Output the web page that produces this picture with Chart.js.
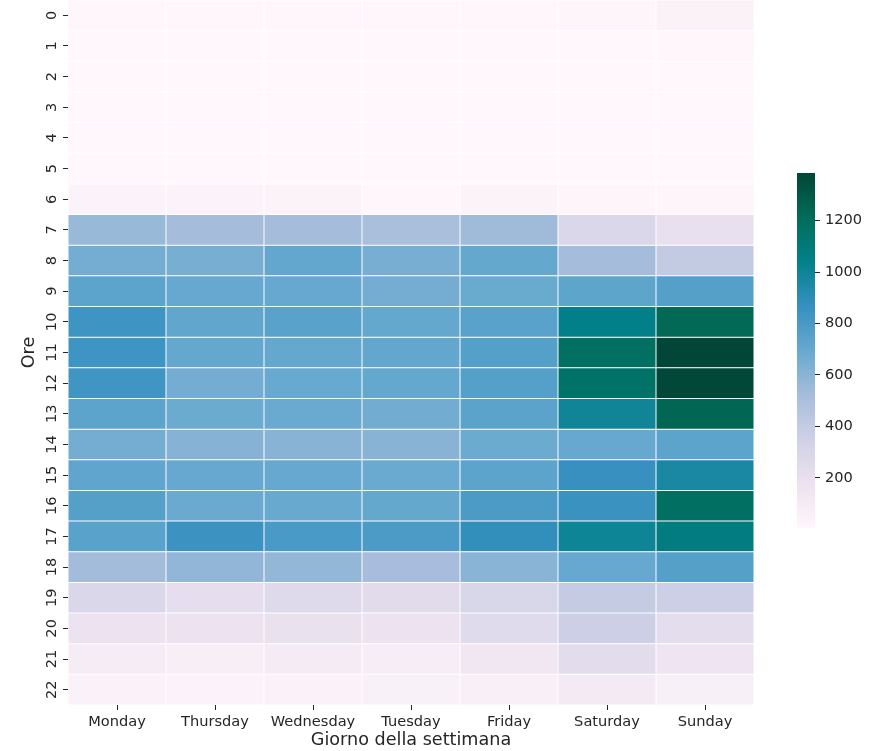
<!DOCTYPE html>
<html>
<head>
<meta charset="utf-8">
<script src="https://cdn.jsdelivr.net/npm/chart.js@4.4.1/dist/chart.umd.min.js"></script>
<style>
  body { margin: 0; background: #fff; }
  #wrap { position: relative; width: 877px; height: 751px; }
  .box { position: absolute; }
</style>
</head>
<body>
<div id="wrap">
  <div class="box" style="left:0;top:0;width:877px;height:751px"><canvas id="heat"></canvas></div>
  <div class="box" style="left:790px;top:160px;width:87px;height:380px"><canvas id="cbar"></canvas></div>
</div>
<script>
const days = ['Monday', 'Thursday', 'Wednesday', 'Tuesday', 'Friday', 'Saturday', 'Sunday'];
const hours = [0, 1, 2, 3, 4, 5, 6, 7, 8, 9, 10, 11, 12, 13, 14, 15, 16, 17, 18, 19, 20, 21, 22];
const colorbarTicks = [200, 400, 600, 800, 1000, 1200];

// counts per hour (0..22) for each day
const monday    = [15, 8, 5, 5, 5, 6, 40, 560, 660, 730, 840, 840, 830, 730, 660, 720, 760, 745, 530, 285, 180, 95, 50];
const thursday  = [12, 6, 5, 5, 5, 6, 38, 525, 650, 700, 715, 705, 660, 680, 610, 700, 685, 845, 580, 215, 180, 80, 40];
const wednesday = [12, 6, 5, 5, 5, 6, 35, 525, 710, 700, 745, 705, 695, 685, 605, 700, 695, 800, 575, 260, 190, 100, 50];
const tuesday   = [12, 6, 5, 5, 5, 6, 15, 505, 650, 660, 705, 710, 705, 665, 605, 685, 705, 795, 520, 245, 175, 90, 55];
const friday    = [15, 8, 5, 5, 5, 6, 35, 540, 705, 690, 745, 760, 760, 735, 680, 730, 790, 880, 600, 300, 250, 140, 70];
const saturday  = [20, 8, 6, 5, 5, 6, 25, 294, 525, 725, 1045, 1180, 1160, 995, 700, 865, 855, 1000, 700, 400, 365, 240, 115];
const sunday    = [45, 15, 8, 6, 5, 6, 25, 200, 405, 760, 1225, 1385, 1375, 1240, 730, 960, 1180, 1080, 760, 365, 230, 150, 65];

const byDay = [monday, thursday, wednesday, tuesday, friday, saturday, sunday];

// matplotlib PuBuGn
const PUBUGN = ['#fff7fb', '#ece2f0', '#d0d1e6', '#a6bddb', '#67a9cf', '#3690c0', '#02818a', '#016c59', '#014636'];
const TEXT = '#262626';
const FONT = 'DejaVu Sans';

const allValues = byDay.flat();
const vmin = Math.min(...allValues);
const vmax = Math.max(...allValues);

function hexToRgb(h) {
    return [1, 3, 5].map(i => parseInt(h.substr(i, 2), 16));
}
const stopsRgb = PUBUGN.map(hexToRgb);

function colorFor(v) {
    let t = (v - vmin) / (vmax - vmin);
    t = Math.max(0, Math.min(1, t)) * (stopsRgb.length - 1);
    const i = Math.min(Math.floor(t), stopsRgb.length - 2);
    const f = t - i;
    const a = stopsRgb[i], b = stopsRgb[i + 1];
    const c = a.map((x, k) => Math.round(x + (b[k] - x) * f));
    return 'rgb(' + c.join(',') + ')';
}

// no extra room for label overhang, the cells go to the edges
function noPad(s) {
    s.paddingTop = 0;
    s.paddingBottom = 0;
    s.paddingLeft = 0;
    s.paddingRight = 0;
}

const datasets = hours.map(h => ({
    data: days.map(() => [h, h + 1]),
    backgroundColor: days.map((d, j) => colorFor(byDay[j][h])),
    borderColor: '#ffffff',
    borderWidth: 0.5,
    borderSkipped: false,
    grouped: false,
    barPercentage: 1,
    categoryPercentage: 1,
    inflateAmount: 0,
}));

new Chart(document.getElementById('heat'), {
    type: 'bar',
    data: { labels: days, datasets },
    options: {
        responsive: true,
        maintainAspectRatio: false,
        animation: false,
        layout: { padding: { left: 0, top: 0, right: 123, bottom: 0 } },
        plugins: { legend: { display: false }, tooltip: { enabled: false } },
        scales: {
            x: {
                grid: { offset: false, drawOnChartArea: false, tickLength: 5, color: TEXT },
                border: { display: false },
                ticks: { color: TEXT, padding: 3, font: { family: FONT, size: 14.6 } },
                title: { display: true, text: 'Giorno della settimana', color: TEXT,
                         padding: { top: 0, bottom: 0 }, font: { family: FONT, size: 17.6 } },
                afterFit: s => { s.height = 46; noPad(s); },
            },
            y: {
                type: 'linear',
                reverse: true,
                min: 0,
                max: hours.length,
                afterBuildTicks: s => { s.ticks = hours.map(h => ({ value: h + 0.5 })); },
                grid: { drawOnChartArea: false, tickLength: 5, color: TEXT },
                border: { display: false },
                ticks: {
                    color: TEXT, padding: 2, minRotation: 90, maxRotation: 90, crossAlign: 'center',
                    font: { family: FONT, size: 14.6 },
                    callback: (v, i) => String(hours[i]),
                },
                title: { display: true, text: 'Ore', color: TEXT,
                         padding: { top: 19, bottom: 0 }, font: { family: FONT, size: 17.6 } },
                afterFit: s => { s.width = 68; noPad(s); },
            },
        },
    },
});

new Chart(document.getElementById('cbar'), {
    type: 'bar',
    data: {
        labels: [''],
        datasets: [{
            data: [[vmin, vmax]],
            backgroundColor: c => {
                const chart = c.chart;
                if (!chart.chartArea) return PUBUGN[4];
                const ys = chart.scales.y;
                const g = chart.ctx.createLinearGradient(0, ys.getPixelForValue(vmin), 0, ys.getPixelForValue(vmax));
                PUBUGN.forEach((col, i) => g.addColorStop(i / (PUBUGN.length - 1), col));
                return g;
            },
            borderWidth: 0,
            barPercentage: 1,
            categoryPercentage: 1,
            inflateAmount: 0,
        }],
    },
    options: {
        responsive: true,
        maintainAspectRatio: false,
        animation: false,
        layout: { padding: { left: 7, top: 13, bottom: 12, right: 0 } },
        plugins: { legend: { display: false }, tooltip: { enabled: false } },
        scales: {
            x: { display: false },
            y: {
                position: 'right',
                min: vmin,
                max: vmax,
                afterBuildTicks: s => { s.ticks = colorbarTicks.map(v => ({ value: v })); },
                grid: { drawOnChartArea: false, tickLength: 5, color: TEXT },
                border: { display: false },
                ticks: { color: TEXT, padding: 5, font: { family: FONT, size: 14.6 },
                         callback: v => String(v) },
                afterFit: s => { s.width = 62; noPad(s); },
            },
        },
    },
});
</script>
</body>
</html>
